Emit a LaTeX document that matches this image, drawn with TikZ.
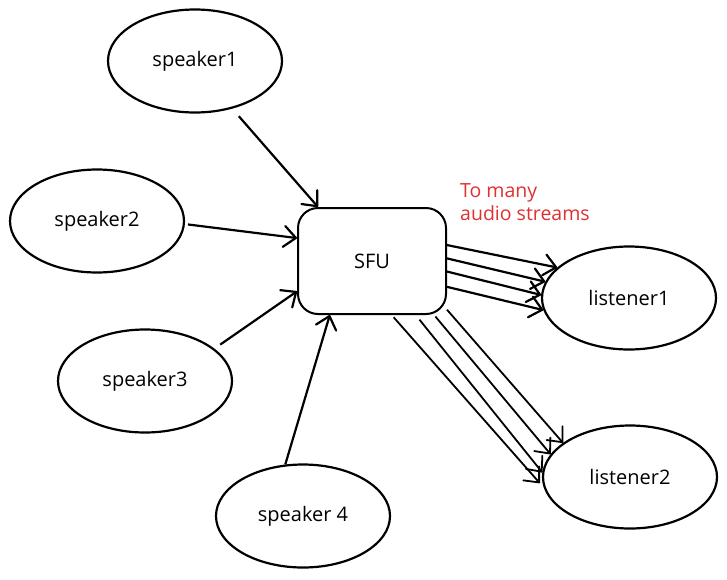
\documentclass[tikz,border=0pt]{standalone}
\usepackage{fontspec}
\setmainfont{Open Sans}
\usetikzlibrary{shapes.geometric,arrows.meta}
\definecolor{notered}{HTML}{E03131}
\begin{document}
\begin{tikzpicture}[x=1pt,y=-1pt,
    peer/.style={shape=ellipse, draw=black, line width=2.2pt, minimum width=174pt, minimum height=103pt, inner sep=0pt, font=\fontsize{20}{24}\selectfont},
    hub/.style={shape=rectangle, rounded corners=20pt, draw=black, line width=2pt, minimum width=148pt, minimum height=106pt, font=\fontsize{20}{24}\selectfont},
    stream/.style={-{Straight Barb[length=12pt,width=21pt,round]}, line width=2.2pt},
    fanout/.style={stream, line width=1.8pt}]
    \useasboundingbox (0,0) rectangle (727,579);
    \node[peer] at (195,61) (S1) {speaker1};
    \node[peer] at (97,221) (S2) {speaker2};
    \node[peer] at (145,381) (S3) {speaker3};
    \node[peer] at (303,516) (S4) {speaker 4};
    \node[hub] at (372,261) (SFU) {SFU};
    \node[peer] at (629,298) (L1) {listener1};
    \node[peer] at (630,477) (L2) {listener2};
    \node[text=notered, align=left, anchor=north west, inner sep=0pt, font=\fontsize{19.5}{23}\selectfont] at (460,183) (note) {To many\\audio streams};
    % speakers into the SFU
    \path [stream, shorten <=10pt] (S1.-52) edge (SFU.135);
    \path [stream, shorten <=3pt] (S2.-2) edge (SFU.163);
    \path [stream, shorten <=7pt] (S3.25) edge (SFU.202);
    \path [stream] (S4.109) edge (SFU.232);
    % SFU out to listener1
    \path [stream] (SFU.12) edge (L1.157);
    \path [stream] (SFU.2) edge (L1.169);
    \path [stream] (SFU.-8) edge (L1.178);
    \path [stream] (SFU.-19) edge (L1.188);
    % SFU out to listener2
    \path [fanout, shorten <=3pt, shorten >=6pt] (SFU.-70) edge (L2.187);
    \path [fanout, shorten <=6pt] (SFU.-51) edge (L2.177);
    \path [fanout, shorten <=2pt] (SFU.-41) edge (L2.164);
    \path [fanout] (SFU.-33) edge (L2.153);
\end{tikzpicture}
\end{document}
